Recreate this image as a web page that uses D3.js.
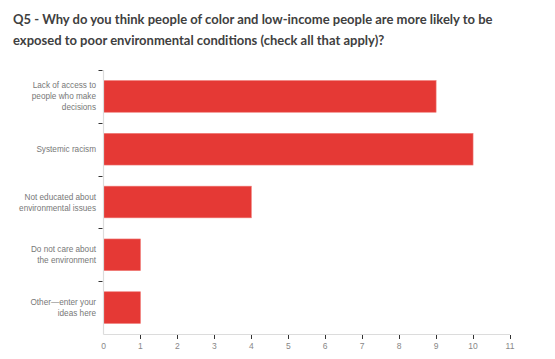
<!DOCTYPE html>
<html><head><meta charset="utf-8">
<script src="https://cdn.jsdelivr.net/npm/d3@7"></script>
<style>body{margin:0;background:#fff;} svg{display:block;}</style>
</head><body>
<script>
const titleLines = ["Q5 - Why do you think people of color and low-income people are more likely to be",
                    "exposed to poor environmental conditions (check all that apply)?"];
const categories = [
  ["Lack of access to","people who make","decisions"],
  ["Systemic racism"],
  ["Not educated about","environmental issues"],
  ["Do not care about","the environment"],
  ["Other\u2014enter your","ideas here"]
];
const values = [9, 10, 4, 1, 1];
const xTicks = [0,1,2,3,4,5,6,7,8,9,10,11];

(function(){
const W = 555, H = 359;
const svg = d3.select("body").append("svg").attr("width", W).attr("height", H);

svg.append("g").selectAll("text").data(titleLines).join("text")
  .attr("x", 13).attr("y", (d,i) => 24 + i*21)
  .attr("font-family", "Lato, 'Open Sans', sans-serif")
  .attr("font-weight", "bold").attr("font-size", 13)
  .attr("fill", "#404040").text(d => d);

const mL = 103.5, mR = 510, mT = 70, mB = 334;
const x = d3.scaleLinear().domain([0, 11]).range([mL, mR]);
const idx = d3.range(categories.length);
const y = d3.scaleBand().domain(idx).range([mT, mB]).paddingInner(0.4).paddingOuter(0.2);

svg.append("g").selectAll("rect").data(idx).join("rect")
  .attr("x", x(0)).attr("y", i => y(i))
  .attr("width", i => x(values[i]) - x(0)).attr("height", y.bandwidth())
  .attr("fill", "#e53935").attr("stroke", "#f07a76").attr("stroke-width", 0.6);

svg.append("line").attr("x1", mL).attr("x2", mL).attr("y1", mT).attr("y2", mB+0.5)
  .attr("stroke", "#dcdcdc").attr("stroke-width", 1.2);
svg.append("line").attr("x1", mL).attr("x2", mR).attr("y1", mB+0.5).attr("y2", mB+0.5)
  .attr("stroke", "#dcdcdc").attr("stroke-width", 1.2);

const xa = svg.append("g");
xa.selectAll("line").data(xTicks.slice(1)).join("line")
  .attr("x1", d => Math.round(x(d))+0.5).attr("x2", d => Math.round(x(d))+0.5)
  .attr("y1", mB+1).attr("y2", mB+5).attr("stroke", "#333").attr("stroke-width", 1);
xa.selectAll("text").data(xTicks).join("text")
  .attr("x", d => x(d)).attr("y", mB+15)
  .attr("text-anchor", "middle").attr("font-family", "'Liberation Sans', Arial, sans-serif")
  .attr("font-size", 8.5).attr("fill", "#888").text(d => d);

const step = y.step();
const bounds = idx.map(i => y(i) - step*y.paddingInner()/2);
svg.append("g").selectAll("line").data(bounds).join("line")
  .attr("x1", mL-5).attr("x2", mL-1)
  .attr("y1", d => Math.round(d)+0.5).attr("y2", d => Math.round(d)+0.5)
  .attr("stroke", "#333").attr("stroke-width", 1);

const lh = 11;
const yl = svg.append("g");
idx.forEach(i => {
  const lines = categories[i];
  const cy = y(i) + y.bandwidth()/2;
  const t = yl.append("text").attr("text-anchor", "end")
    .attr("font-family", "'Liberation Sans', Arial, sans-serif")
    .attr("font-size", 8.2).attr("fill", "#777");
  lines.forEach((ln, k) => {
    t.append("tspan").attr("x", 96)
      .attr("y", cy + (k - (lines.length-1)/2)*lh + 3).text(ln);
  });
});
})();
</script>
</body></html>
